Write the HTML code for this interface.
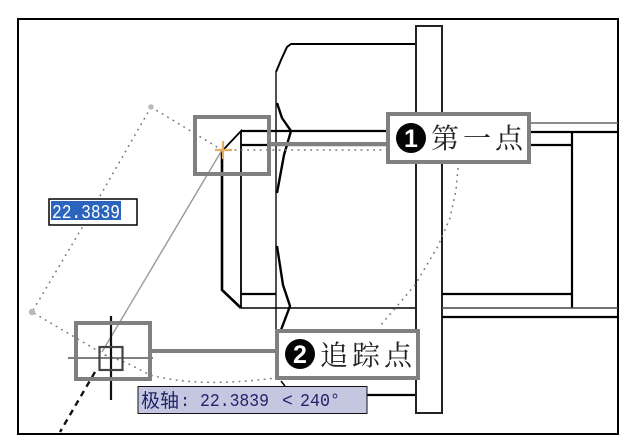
<!DOCTYPE html>
<html><head><meta charset="utf-8">
<style>
html,body{margin:0;padding:0;background:#fff;width:629px;height:446px;overflow:hidden}
svg{display:block;filter:blur(.35px)}
.cjk{font-family:"Noto Serif CJK SC",serif;font-size:28px;fill:#222}
.mono{font-family:"Liberation Mono",monospace}
.cjk2{font-family:"WenQuanYi Zen Hei","Noto Sans CJK SC",sans-serif}
</style></head>
<body>
<svg width="629" height="446" viewBox="0 0 629 446" xmlns="http://www.w3.org/2000/svg">
<rect width="629" height="446" fill="#fff"/>
<!-- frame -->
<rect x="18" y="19" width="600" height="415" fill="none" stroke="#000" stroke-width="2"/>
<!-- part outlines -->
<g fill="none" stroke="#000" stroke-width="2">
  <path d="M416 44H291L287 47L281 60L276 72" stroke-width="2"/>
  <path d="M276 72V330" stroke="#333" stroke-width="1.7"/>
  <path d="M277 103L282 118L291 131L284 155L277 193" stroke-width="2.4"/>
  <path d="M277 246L283 285L290 306L281 330" stroke-width="2.4"/>
  <path d="M281 381L285 386" stroke-width="1.5"/>
  <path d="M241 131H416" stroke-width="2.2"/>
  <path d="M241 145H386" stroke-width="2.2"/>
  <path d="M224 149L241 131V308" stroke-width="1.8"/>
  <path d="M222 150V290L241 308" stroke-width="2.6"/>
  <path d="M241 294H276" stroke-width="2.2"/>
  <path d="M241 308H416" stroke-width="1.6"/>
  <path d="M367 395H416" stroke-width="2.2"/>
  <rect x="416" y="26" width="26" height="387" stroke="#222" stroke-width="2"/>
  <path d="M531 123H618" stroke="#666" stroke-width="1.5"/>
  <path d="M442 132H618" stroke-width="2.2"/>
  <path d="M531 145H572" stroke-width="2.2"/>
  <path d="M572 132V308" stroke-width="2.2"/>
  <path d="M442 294H572" stroke-width="2.2"/>
  <path d="M442 308H618" stroke="#444" stroke-width="1.5"/>
  <path d="M442 317H618" stroke-width="2.2"/>
</g>
<!-- tracking dotted lines -->
<g fill="none" stroke="#777" stroke-width="1.5" stroke-dasharray="1.8 4.500">
  <path d="M151 107L222 150"/>
  <path d="M222 150H386"/>
  <path d="M151 107L100 196L83 226L32 312L105 355"/>
  <path d="M105 355L127 363L150 375Q200 388 275 378"/>
  <path d="M458 168L456 190L450 218L438 246L415 285L380 326"/>
</g>
<path d="M222 150L102 352" fill="none" stroke="#999" stroke-width="1.4"/>
<circle cx="151" cy="107" r="2.800" fill="#bbb"/>
<circle cx="32" cy="312" r="3.200" fill="#bbb"/>
<path d="M95 372L60 432" fill="none" stroke="#111" stroke-width="2.4" stroke-dasharray="6 5"/>
<!-- orange marker -->
<path d="M215 150H232M223 141V159" fill="none" stroke="#e8ab62" stroke-width="2.2"/>
<!-- crosshair -->
<path d="M111 316V400" stroke="#111" stroke-width="2.2" fill="none"/>
<path d="M68 358H153" stroke="#333" stroke-width="1.3" fill="none"/>
<rect x="99.500" y="347" width="23" height="23" fill="none" stroke="#444" stroke-width="2.2"/>
<!-- callout boxes -->
<g fill="none" stroke="#808080" stroke-width="4">
  <rect x="195" y="117" width="74" height="57"/>
  <rect x="76" y="323" width="74" height="56"/>
  <path d="M270 144H388"/>
  <path d="M152 351H276"/>
</g>
<rect x="388" y="114" width="141" height="48" fill="#fff" stroke="#808080" stroke-width="4"/>
<rect x="277" y="331" width="141" height="47" fill="#fff" stroke="#808080" stroke-width="4"/>
<circle cx="411" cy="138" r="15" fill="#050505"/>
<text x="411" y="147" text-anchor="middle" font-family="Liberation Sans,sans-serif" font-weight="bold" font-size="25" fill="#fff">1</text>
<text class="cjk" x="431" y="148" textLength="92">第一点</text>
<circle cx="300" cy="354" r="15" fill="#050505"/>
<text x="300" y="363" text-anchor="middle" font-family="Liberation Sans,sans-serif" font-weight="bold" font-size="25" fill="#fff">2</text>
<text class="cjk" x="320" y="365" textLength="92">追踪点</text>
<!-- input -->
<rect x="49" y="199" width="88" height="26" fill="#fff" stroke="#000" stroke-width="1.500"/>
<rect x="51" y="201" width="70" height="19" fill="#2a64bd"/>
<text class="mono" x="52" y="218" font-size="19" fill="#fff" textLength="68" lengthAdjust="spacingAndGlyphs">22.3839</text>
<!-- tooltip -->
<rect x="138" y="386.500" width="229" height="27" fill="#c5c7e0" stroke="#111" stroke-width="1"/>
<text class="cjk2" x="141" y="407" font-size="19" fill="#20246a">极轴</text>
<text class="mono" x="180" y="406" font-size="17" fill="#20246a">:</text>
<text class="mono" x="200" y="406" font-size="18" fill="#20246a" textLength="69" lengthAdjust="spacingAndGlyphs">22.3839</text>
<text class="mono" x="282" y="406" font-size="18" fill="#20246a">&lt;</text>
<text class="mono" x="300" y="406" font-size="18" fill="#20246a" textLength="40" lengthAdjust="spacingAndGlyphs">240°</text>
</svg>
</body></html>
